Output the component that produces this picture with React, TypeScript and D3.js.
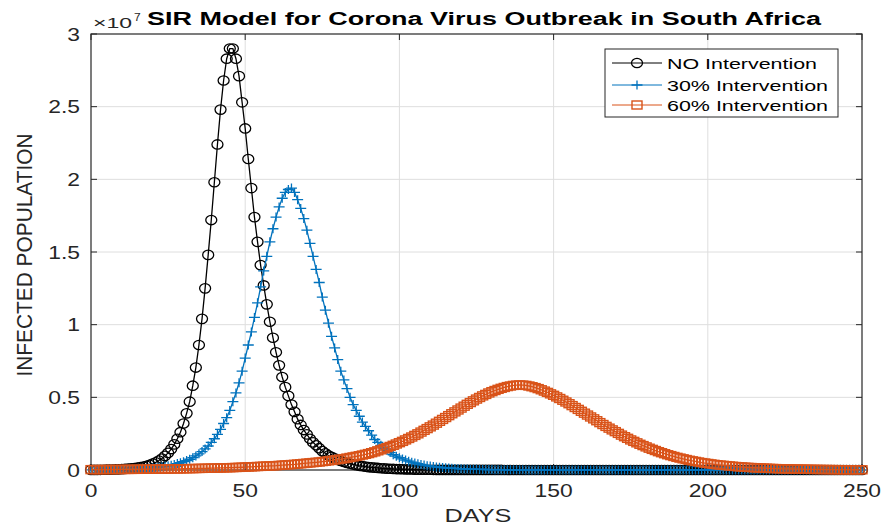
import React, { useEffect, useRef } from 'react';
import * as d3 from 'd3';

// infected population per day (units of 10^7), day 0..250
const noIntervention = [
  0.0008, 0.001, 0.0012, 0.0015, 0.0018, 0.0022, 0.0027, 0.0033, 0.004, 0.0049,
  0.006, 0.0073, 0.009, 0.011, 0.013, 0.016, 0.02, 0.024, 0.029, 0.036,
  0.044, 0.053, 0.065, 0.079, 0.097, 0.118, 0.144, 0.176, 0.215, 0.26,
  0.32, 0.39, 0.47, 0.58, 0.705, 0.86, 1.04, 1.25, 1.48, 1.72,
  1.98, 2.24, 2.48, 2.68, 2.83, 2.9, 2.9, 2.83, 2.71, 2.53,
  2.35, 2.14, 1.94, 1.74, 1.57, 1.41, 1.27, 1.14, 1.02, 0.91,
  0.81, 0.72, 0.64, 0.57, 0.51, 0.45, 0.4, 0.35, 0.31, 0.275,
  0.245, 0.215, 0.19, 0.17, 0.15, 0.13, 0.115, 0.1, 0.09, 0.08,
  0.07, 0.062, 0.055, 0.048, 0.043, 0.038, 0.033, 0.029, 0.026, 0.023,
  0.02, 0.018, 0.016, 0.014, 0.012, 0.011, 0.0095, 0.0085, 0.0075, 0.0066,
  0.0058, 0.005, 0.0044, 0.0039, 0.0034, 0.003, 0.0026, 0.0023, 0.002, 0.0018,
  0.0016, 0.0014, 0.0012, 0.0011, 0.001, 0.0009, 0.0008, 0.0007, 0.0006, 0.0005,
  0.0005, 0.0004, 0.0004, 0.0004, 0.0003, 0.0003, 0.0003, 0.0003, 0.0002, 0.0002,
  0.0002, 0.0002, 0.0002, 0.0002, 0.0001, 0.0001, 0.0001, 0.0001, 0.0001, 0.0001,
  0, 0, 0, 0, 0, 0, 0, 0, 0, 0,
  0, 0, 0, 0, 0, 0, 0, 0, 0, 0,
  0, 0, 0, 0, 0, 0, 0, 0, 0, 0,
  0, 0, 0, 0, 0, 0, 0, 0, 0, 0,
  0, 0, 0, 0, 0, 0, 0, 0, 0, 0,
  0, 0, 0, 0, 0, 0, 0, 0, 0, 0,
  0, 0, 0, 0, 0, 0, 0, 0, 0, 0,
  0, 0, 0, 0, 0, 0, 0, 0, 0, 0,
  0, 0, 0, 0, 0, 0, 0, 0, 0, 0,
  0, 0, 0, 0, 0, 0, 0, 0, 0, 0,
  0, 0, 0, 0, 0, 0, 0, 0, 0, 0,
  0
];

const intervention30 = [
  0.001, 0.0011, 0.0013, 0.0015, 0.0017, 0.002, 0.0023, 0.0026, 0.003, 0.0034,
  0.0039, 0.0044, 0.005, 0.0058, 0.0066, 0.0076, 0.0087, 0.0099, 0.0113, 0.013,
  0.015, 0.017, 0.019, 0.022, 0.025, 0.029, 0.033, 0.038, 0.044, 0.05,
  0.057, 0.065, 0.074, 0.085, 0.097, 0.111, 0.127, 0.145, 0.165, 0.19,
  0.215, 0.245, 0.28, 0.32, 0.36, 0.41, 0.47, 0.53, 0.6, 0.68,
  0.77, 0.86, 0.95, 1.05, 1.15, 1.26, 1.37, 1.47, 1.57, 1.66,
  1.74, 1.81, 1.87, 1.91, 1.93, 1.94, 1.91, 1.86, 1.8, 1.73,
  1.65, 1.56, 1.47, 1.38, 1.29, 1.19, 1.1, 1.01, 0.92, 0.84,
  0.76, 0.68, 0.62, 0.56, 0.5, 0.45, 0.41, 0.37, 0.33, 0.3,
  0.27, 0.24, 0.21, 0.19, 0.17, 0.15, 0.135, 0.12, 0.105, 0.095,
  0.085, 0.076, 0.068, 0.061, 0.054, 0.048, 0.043, 0.038, 0.034, 0.03,
  0.027, 0.024, 0.021, 0.019, 0.017, 0.015, 0.013, 0.012, 0.0105, 0.0094,
  0.0084, 0.0075, 0.0067, 0.006, 0.0053, 0.0047, 0.0042, 0.0037, 0.0033, 0.003,
  0.0026, 0.0023, 0.0021, 0.0019, 0.0017, 0.0015, 0.0013, 0.0012, 0.0011, 0.001,
  0.0009, 0.0008, 0.0007, 0.0007, 0.0006, 0.0005, 0.0005, 0.0004, 0.0004, 0.0004,
  0.0003, 0.0003, 0.0003, 0.0003, 0.0003, 0.0002, 0.0002, 0.0002, 0.0002, 0.0002,
  0.0002, 0.0002, 0.0002, 0.0001, 0.0001, 0.0001, 0.0001, 0.0001, 0.0001, 0.0001,
  0.0001, 0.0001, 0.0001, 0.0001, 0.0001, 0, 0, 0, 0, 0,
  0, 0, 0, 0, 0, 0, 0, 0, 0, 0,
  0, 0, 0, 0, 0, 0, 0, 0, 0, 0,
  0, 0, 0, 0, 0, 0, 0, 0, 0, 0,
  0, 0, 0, 0, 0, 0, 0, 0, 0, 0,
  0, 0, 0, 0, 0, 0, 0, 0, 0, 0,
  0, 0, 0, 0, 0, 0, 0, 0, 0, 0,
  0, 0, 0, 0, 0, 0, 0, 0, 0, 0,
  0
];

const intervention60 = [
  0.0025, 0.0026, 0.0027, 0.0029, 0.003, 0.0031, 0.0032, 0.0034, 0.0035, 0.0037,
  0.0038, 0.004, 0.0042, 0.0043, 0.0045, 0.0047, 0.0049, 0.0051, 0.0053, 0.0055,
  0.0057, 0.006, 0.0062, 0.0065, 0.0068, 0.0071, 0.0074, 0.0077, 0.008, 0.0084,
  0.0087, 0.0091, 0.0095, 0.0099, 0.0103, 0.0108, 0.0112, 0.0117, 0.0122, 0.0127,
  0.013, 0.0136, 0.0142, 0.0148, 0.0154, 0.016, 0.0167, 0.0174, 0.0182, 0.019,
  0.02, 0.021, 0.022, 0.023, 0.024, 0.025, 0.026, 0.027, 0.028, 0.029,
  0.03, 0.0315, 0.033, 0.0345, 0.036, 0.0375, 0.039, 0.041, 0.043, 0.045,
  0.047, 0.049, 0.051, 0.053, 0.055, 0.058, 0.06, 0.063, 0.066, 0.069,
  0.072, 0.075, 0.078, 0.082, 0.086, 0.09, 0.094, 0.098, 0.103, 0.108,
  0.113, 0.119, 0.125, 0.132, 0.139, 0.146, 0.154, 0.162, 0.17, 0.179,
  0.188, 0.197, 0.207, 0.217, 0.227, 0.238, 0.249, 0.261, 0.273, 0.285,
  0.297, 0.309, 0.322, 0.335, 0.348, 0.361, 0.374, 0.387, 0.4, 0.413,
  0.426, 0.439, 0.452, 0.464, 0.476, 0.488, 0.499, 0.51, 0.52, 0.53,
  0.539, 0.547, 0.555, 0.562, 0.568, 0.574, 0.578, 0.582, 0.584, 0.585,
  0.584, 0.582, 0.578, 0.573, 0.567, 0.56, 0.552, 0.543, 0.534, 0.524,
  0.514, 0.503, 0.492, 0.48, 0.468, 0.456, 0.443, 0.43, 0.417, 0.404,
  0.391, 0.378, 0.365, 0.352, 0.339, 0.326, 0.313, 0.3, 0.288, 0.276,
  0.264, 0.252, 0.24, 0.229, 0.218, 0.207, 0.197, 0.187, 0.177, 0.168,
  0.159, 0.15, 0.142, 0.134, 0.126, 0.119, 0.112, 0.105, 0.099, 0.093,
  0.087, 0.082, 0.077, 0.072, 0.067, 0.063, 0.059, 0.055, 0.051, 0.048,
  0.045, 0.042, 0.039, 0.036, 0.034, 0.032, 0.03, 0.028, 0.026, 0.024,
  0.022, 0.021, 0.019, 0.018, 0.017, 0.016, 0.015, 0.014, 0.013, 0.012,
  0.011, 0.0104, 0.0097, 0.009, 0.0084, 0.0078, 0.0073, 0.0068, 0.0063, 0.0059,
  0.0055, 0.0051, 0.0048, 0.0044, 0.0041, 0.0039, 0.0036, 0.0034, 0.0031, 0.0029,
  0.0027, 0.0025, 0.0024, 0.0022, 0.002, 0.0019, 0.0018, 0.0017, 0.0016, 0.0015,
  0.0014
];

const seriesNames = ['NO Intervention', '30% Intervention', '60% Intervention'];
const xTicks = [0, 50, 100, 150, 200, 250];
const yTicks = [0, 0.5, 1, 1.5, 2, 2.5, 3];

const FONT = '"Liberation Sans", Arial, Helvetica, sans-serif';
const AXIS_COLOR = '#262626';

const SirChart = () => {
  const svgRef = useRef<SVGSVGElement>(null);

  useEffect(() => {
    const width = 883;
    const height = 526;
    const margin = { top: 34, right: 21, bottom: 56, left: 91 };

    d3.select(svgRef.current).selectAll('*').remove();

    const svg = d3.select(svgRef.current)
      .attr('width', width)
      .attr('height', height)
      .style('font-family', FONT);

    const x = d3.scaleLinear().domain([0, 250]).range([margin.left, width - margin.right]);
    const y = d3.scaleLinear().domain([0, 3]).range([height - margin.bottom, margin.top]);

    const x0 = margin.left;
    const x1 = width - margin.right;
    const y0 = height - margin.bottom;
    const y1 = margin.top;

    svg.append('rect')
      .attr('width', width)
      .attr('height', height)
      .attr('fill', '#ffffff');

    // gridlines
    const grid = svg.append('g').attr('stroke', '#dedede').attr('stroke-width', 1);
    xTicks.slice(1, -1).forEach(t => {
      grid.append('line')
        .attr('x1', x(t)).attr('x2', x(t))
        .attr('y1', y1).attr('y2', y0);
    });
    yTicks.slice(1, -1).forEach(t => {
      grid.append('line')
        .attr('x1', x0).attr('x2', x1)
        .attr('y1', y(t)).attr('y2', y(t));
    });

    // axes box + inward ticks
    svg.append('rect')
      .attr('x', x0).attr('y', y1)
      .attr('width', x1 - x0).attr('height', y0 - y1)
      .attr('fill', 'none')
      .attr('stroke', AXIS_COLOR)
      .attr('stroke-width', 1.2);

    const ticks = svg.append('g').attr('stroke', AXIS_COLOR).attr('stroke-width', 1);
    xTicks.forEach(t => {
      ticks.append('line').attr('x1', x(t)).attr('x2', x(t)).attr('y1', y0).attr('y2', y0 - 6);
      ticks.append('line').attr('x1', x(t)).attr('x2', x(t)).attr('y1', y1).attr('y2', y1 + 6);
    });
    yTicks.forEach(t => {
      ticks.append('line').attr('x1', x0).attr('x2', x0 + 6).attr('y1', y(t)).attr('y2', y(t));
      ticks.append('line').attr('x1', x1).attr('x2', x1 - 6).attr('y1', y(t)).attr('y2', y(t));
    });

    // tick labels (the source image is stretched sideways)
    const sx = 1.27;
    xTicks.forEach(t => {
      svg.append('text')
        .attr('transform', `translate(${x(t)},497) scale(${sx},1)`)
        .attr('text-anchor', 'middle')
        .attr('font-size', 18)
        .attr('fill', AXIS_COLOR)
        .text(t);
    });
    yTicks.forEach(t => {
      svg.append('text')
        .attr('transform', `translate(80,${y(t) + 6.5}) scale(${sx},1)`)
        .attr('text-anchor', 'end')
        .attr('font-size', 18)
        .attr('fill', AXIS_COLOR)
        .text(t);
    });

    // exponent
    svg.append('text')
      .attr('x', 93).attr('y', 28)
      .attr('font-size', 14)
      .attr('fill', AXIS_COLOR)
      .attr('textLength', 39)
      .attr('lengthAdjust', 'spacingAndGlyphs')
      .text('×10');
    svg.append('text')
      .attr('transform', 'translate(134,21) scale(1.2,1)')
      .attr('font-size', 10)
      .attr('fill', AXIS_COLOR)
      .text('7');

    // title
    svg.append('text')
      .attr('x', 484).attr('y', 25)
      .attr('text-anchor', 'middle')
      .attr('font-size', 18)
      .attr('font-weight', 'bold')
      .attr('fill', '#000000')
      .attr('textLength', 674)
      .attr('lengthAdjust', 'spacingAndGlyphs')
      .text('SIR Model for Corona Virus Outbreak in South Africa');

    // axis labels
    svg.append('text')
      .attr('x', 478).attr('y', 522)
      .attr('text-anchor', 'middle')
      .attr('font-size', 19)
      .attr('fill', AXIS_COLOR)
      .attr('textLength', 67)
      .attr('lengthAdjust', 'spacingAndGlyphs')
      .text('DAYS');

    svg.append('text')
      .attr('transform', 'translate(32,255) scale(1.35,1) rotate(-90)')
      .attr('text-anchor', 'middle')
      .attr('font-size', 17)
      .attr('fill', AXIS_COLOR)
      .attr('textLength', 243)
      .attr('lengthAdjust', 'spacingAndGlyphs')
      .text('INFECTED POPULATION');

    const line = d3.line<number>()
      .x((d, i) => x(i))
      .y(d => y(d));

    const series = [
      { name: seriesNames[0], values: noIntervention, color: '#000000', marker: 'circle' },
      { name: seriesNames[1], values: intervention30, color: '#0072BD', marker: 'plus' },
      { name: seriesNames[2], values: intervention60, color: '#D95319', marker: 'square' }
    ];

    const drawMarker = (g: any, kind: string, color: string, cx: number, cy: number) => {
      if (kind === 'circle') {
        g.append('ellipse')
          .attr('cx', cx).attr('cy', cy)
          .attr('rx', 5.5).attr('ry', 4.7)
          .attr('fill', 'none').attr('stroke', color).attr('stroke-width', 1.3);
      } else if (kind === 'plus') {
        g.append('path')
          .attr('d', `M${cx - 5.5},${cy}H${cx + 5.5}M${cx},${cy - 4.5}V${cy + 4.5}`)
          .attr('fill', 'none').attr('stroke', color).attr('stroke-width', 1.3);
      } else {
        g.append('rect')
          .attr('x', cx - 5).attr('y', cy - 4)
          .attr('width', 10).attr('height', 8)
          .attr('fill', 'none').attr('stroke', color).attr('stroke-width', 1.4);
      }
    };

    series.forEach(s => {
      const g = svg.append('g');
      g.append('path')
        .datum(s.values)
        .attr('d', line)
        .attr('fill', 'none')
        .attr('stroke', s.color)
        .attr('stroke-width', 1.3);
      s.values.forEach((v, i) => drawMarker(g, s.marker, s.color, x(i), y(v)));
    });

    // legend
    const legend = svg.append('g');
    legend.append('rect')
      .attr('x', 605).attr('y', 49)
      .attr('width', 233).attr('height', 68)
      .attr('fill', '#ffffff')
      .attr('stroke', AXIS_COLOR)
      .attr('stroke-width', 1);

    const rowY = [63, 85, 105];
    const textLen = [150, 161, 161];
    series.forEach((s, i) => {
      legend.append('line')
        .attr('x1', 612).attr('x2', 662)
        .attr('y1', rowY[i]).attr('y2', rowY[i])
        .attr('stroke', s.color).attr('stroke-width', 1);
      drawMarker(legend, s.marker, s.color, 637, rowY[i]);
      legend.append('text')
        .attr('x', 667).attr('y', rowY[i] + 5.5)
        .attr('font-size', 14)
        .attr('fill', '#000000')
        .attr('textLength', textLen[i])
        .attr('lengthAdjust', 'spacingAndGlyphs')
        .text(s.name);
    });
  }, []);

  return (
    <svg ref={svgRef} style={{ position: 'absolute', left: 0, top: 0 }}></svg>
  );
};

export default SirChart;
